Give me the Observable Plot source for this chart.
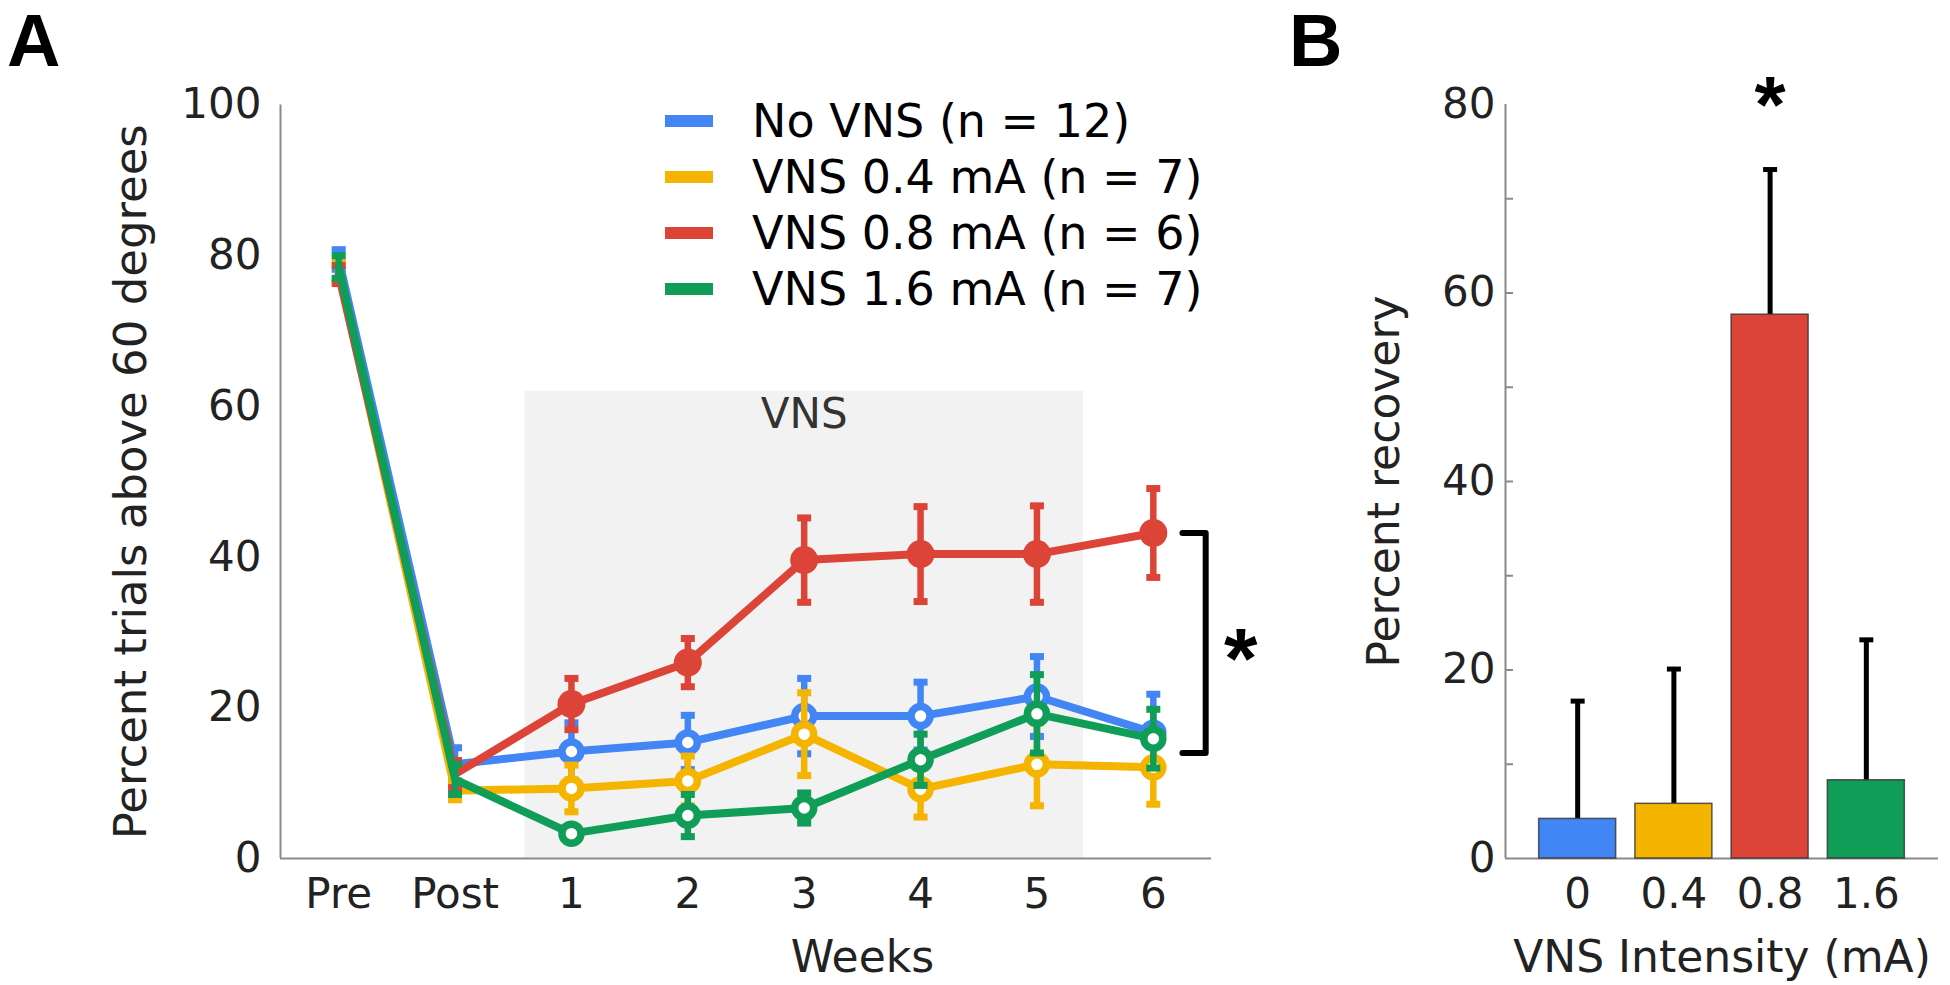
<!DOCTYPE html>
<html>
<head>
<meta charset="utf-8">
<script src="https://cdn.jsdelivr.net/npm/d3@7"></script>
<script src="https://cdn.jsdelivr.net/npm/@observablehq/plot@0.6"></script>
<style>
  body { margin: 0; background: #fff; }
  #wrap { position: relative; width: 1950px; height: 985px; font-family: 'DejaVu Sans', sans-serif; overflow: hidden; }
  .panel { position: absolute; top: 0; }
  .plabel { position: absolute; top: 0px; font-family: 'Liberation Sans', Arial, sans-serif; font-weight: bold; font-size: 74px; line-height: 1.12; color: #000; }
  #legend { position: absolute; left: 665px; top: 93px; }
  .li { display: flex; align-items: center; height: 56px; font-size: 46px; color: #000; white-space: nowrap; }
  .sw { width: 48px; height: 12px; margin-right: 39px; flex: none; }
</style>
</head>
<body>
<div id="wrap">
  <div class="panel" id="panelA" style="left:0px"></div>
  <div class="panel" id="panelB" style="left:1260px"></div>
  <div id="legend"></div>
  <div class="plabel" style="left:7px">A</div>
  <div class="plabel" style="left:1289px">B</div>
</div>
<script>
// ---------- Data ----------
const timeLabels = ["Pre", "Post", "1", "2", "3", "4", "5", "6"];
const groupNames = ["No VNS (n = 12)", "VNS 0.4 mA (n = 7)", "VNS 0.8 mA (n = 6)", "VNS 1.6 mA (n = 7)"];
const groupColors = ["#4285F4", "#F4B400", "#DB4437", "#0F9D58"];

const noVnsMean = [79.5, 12.5, 14.2, 15.4, 18.9, 18.9, 21.5, 16.7];
const noVnsErr  = [1.3, 2.2, 3.8, 3.6, 5.0, 4.5, 5.3, 5.1];
const vns04Mean = [78.0, 9.0, 9.3, 10.3, 16.5, 9.2, 12.5, 12.1];
const vns04Err  = [1.2, 1.2, 3.1, 3.3, 5.5, 3.7, 5.5, 4.9];
const vns08Mean = [77.5, 11.2, 20.5, 26.0, 39.6, 40.4, 40.4, 43.2];
const vns08Err  = [1.2, 1.8, 3.4, 3.2, 5.6, 6.3, 6.4, 5.9];
const vns16Mean = [78.5, 10.5, 3.3, 5.7, 6.7, 13.1, 19.2, 15.9];
const vns16Err  = [1.5, 2.0, 0.8, 2.8, 2.0, 3.4, 5.2, 3.9];

// VNS stimulation period (in time-index units: Pre = 1 ... week 6 = 8)
const vnsPeriod = [{start: 2.6, end: 7.4, top: 62}];
// significance bracket, panel A (x in time-index units)
const bracketA = [{xArm: 8.25, xBar: 8.45, top: 43.2, bottom: 14.0}];

const intensityLabels = ["0", "0.4", "0.8", "1.6"];
const recoveryMean = [4.2, 5.8, 57.7, 8.3];
const recoveryErr  = [12.5, 14.3, 15.4, 14.9];
const significantIntensity = ["0.8"];

// ---------- Helpers ----------
const axisGray = "#8a8a8a";
const capSymbol = {draw(context, size) { const w = Math.sqrt(size / Math.PI); context.moveTo(-w, 0); context.lineTo(w, 0); }};

const series = [
  {mean: noVnsMean, err: noVnsErr, color: groupColors[0], filled: false},
  {mean: vns04Mean, err: vns04Err, color: groupColors[1], filled: false},
  {mean: vns08Mean, err: vns08Err, color: groupColors[2], filled: true},
  {mean: vns16Mean, err: vns16Err, color: groupColors[3], filled: false}
];

function seriesMarks(s) {
  const rows = timeLabels.map((t, i) => ({t: i + 1, m: s.mean[i], e: s.err[i], week: i >= 2}));
  const weekRows = rows.filter(d => d.week);
  return [
    Plot.line(rows, {x: "t", y: "m", stroke: s.color, strokeWidth: 8, strokeLinejoin: "round"}),
    Plot.ruleX(rows, {x: "t", y1: d => d.m - d.e, y2: d => d.m + d.e, stroke: s.color, strokeWidth: 6.5}),
    Plot.dot(rows, {x: "t", y: d => d.m + d.e, symbol: capSymbol, r: 7, stroke: s.color, strokeWidth: 7, fill: "none"}),
    Plot.dot(rows, {x: "t", y: d => d.m - d.e, symbol: capSymbol, r: 7, stroke: s.color, strokeWidth: 7, fill: "none"}),
    s.filled
      ? Plot.dot(weekRows, {x: "t", y: "m", r: 14, fill: s.color, stroke: "none"})
      : Plot.dot(weekRows, {x: "t", y: "m", r: 9.5, fill: "white", stroke: s.color, strokeWidth: 7.5})
  ];
}

const weekIdx = timeLabels.map((t, i) => i + 1).filter((d, i) => i >= 2);
const weeksCenter = (d3.min(weekIdx) + d3.max(weekIdx)) / 2;

// ---------- Panel A ----------
const chartA = Plot.plot({
  width: 1260, height: 985,
  marginLeft: 280, marginRight: 49, marginTop: 104.5, marginBottom: 127,
  x: {domain: [0.5, timeLabels.length + 0.5], axis: null},
  y: {domain: [0, 100], axis: null},
  style: {fontFamily: "DejaVu Sans", fontSize: "42px", color: "#222", background: "none", overflow: "visible"},
  marks: [
    Plot.rect(vnsPeriod, {x1: "start", x2: "end", y1: 0, y2: "top", fill: "#f2f2f2"}),
    Plot.text(vnsPeriod, {x: d => (d.start + d.end) / 2, y: "top", dy: 23, text: () => "VNS", fontSize: 42, fill: "#333", lineAnchor: "middle"}),
    Plot.ruleX([0.5], {stroke: axisGray, strokeWidth: 2}),
    Plot.ruleY([0], {stroke: axisGray, strokeWidth: 2}),
    Plot.axisY({ticks: d3.range(0, 101, 20), tickSize: 0, tickPadding: 19, fontSize: 42, label: null}),
    Plot.axisX({ticks: timeLabels.map((t, i) => i + 1), tickFormat: i => timeLabels[i - 1], tickSize: 0, tickPadding: 20, fontSize: 42, label: null}),
    Plot.text(["Percent trials above 60 degrees"], {frameAnchor: "left", textAnchor: "middle", lineAnchor: "middle", dx: -149, rotate: -90, fontSize: 45, fill: "#222"}),
    Plot.text(["Weeks"], {x: () => weeksCenter, frameAnchor: "bottom", lineAnchor: "middle", dy: 99, fontSize: 44, fill: "#222"}),
    ...series.flatMap(seriesMarks),
    Plot.line(bracketA.flatMap(b => [
      {x: b.xArm, y: b.top}, {x: b.xBar, y: b.top}, {x: b.xBar, y: b.bottom}, {x: b.xArm, y: b.bottom}
    ]), {x: "x", y: "y", stroke: "#000", strokeWidth: 6}),
    Plot.text(bracketA, {x: "xBar", y: d => (d.top + d.bottom) / 2, text: () => "*", dx: 35, dy: 17, lineAnchor: "middle",
      fontSize: 86, fontWeight: "bold", fontFamily: "Liberation Sans", fill: "#000"})
  ]
});
document.getElementById("panelA").appendChild(chartA);

// ---------- Panel B ----------
const barRows = intensityLabels.map((k, i) => ({k, i: i + 1, m: recoveryMean[i], e: recoveryErr[i], c: groupColors[i]}));
const bMarginLeft = 245, bMarginRight = 12, bWidth = 690;
const bFrameWidth = bWidth - bMarginLeft - bMarginRight;
const halfBar = 0.4;

const chartB = Plot.plot({
  width: bWidth, height: 985,
  marginLeft: bMarginLeft, marginRight: bMarginRight, marginTop: 104, marginBottom: 127,
  x: {domain: [0.25, intensityLabels.length + 0.75], axis: null},
  y: {domain: [0, 80], axis: null},
  style: {fontFamily: "DejaVu Sans", fontSize: "42px", color: "#222", background: "none", overflow: "visible"},
  marks: [
    Plot.ruleX([0.25], {stroke: axisGray, strokeWidth: 2}),
    Plot.tickY(d3.range(10, 80, 10), {y: d => d, stroke: axisGray, strokeWidth: 2, insetRight: bFrameWidth - 8}),
    Plot.ruleY([0], {stroke: axisGray, strokeWidth: 2}),
    Plot.axisY({ticks: d3.range(0, 81, 20), tickSize: 0, tickPadding: 10, fontSize: 42, label: null}),
    Plot.axisX({ticks: barRows.map(d => d.i), tickFormat: i => intensityLabels[i - 1], tickSize: 0, tickPadding: 20, fontSize: 42, label: null}),
    Plot.text(["Percent recovery"], {frameAnchor: "left", textAnchor: "middle", lineAnchor: "middle", dx: -121, rotate: -90, fontSize: 44, fill: "#222"}),
    Plot.text(["VNS Intensity (mA)"], {frameAnchor: "bottom", lineAnchor: "middle", dy: 99, fontSize: 44, fill: "#222"}),
    Plot.ruleX(barRows, {x: "i", y1: "m", y2: d => d.m + d.e, stroke: "#000", strokeWidth: 5}),
    Plot.dot(barRows, {x: "i", y: d => d.m + d.e, symbol: capSymbol, r: 7, stroke: "#000", strokeWidth: 5, fill: "none"}),
    Plot.rectY(barRows, {x1: d => d.i - halfBar, x2: d => d.i + halfBar, y1: 0, y2: "m", fill: "c", stroke: "#333", strokeOpacity: 0.8, strokeWidth: 1.5}),
    Plot.text(barRows.filter(d => significantIntensity.includes(d.k)), {x: "i", frameAnchor: "top", lineAnchor: "middle", text: () => "*", dy: 2,
      fontSize: 80, fontWeight: "bold", fontFamily: "Liberation Sans", fill: "#000"})
  ]
});
document.getElementById("panelB").appendChild(chartB);

// ---------- Legend ----------
const legend = d3.select("#legend");
groupNames.forEach((name, i) => {
  const row = legend.append("div").attr("class", "li");
  row.append("div").attr("class", "sw").style("background", groupColors[i]);
  row.append("span").text(name);
});
</script>
</body>
</html>
